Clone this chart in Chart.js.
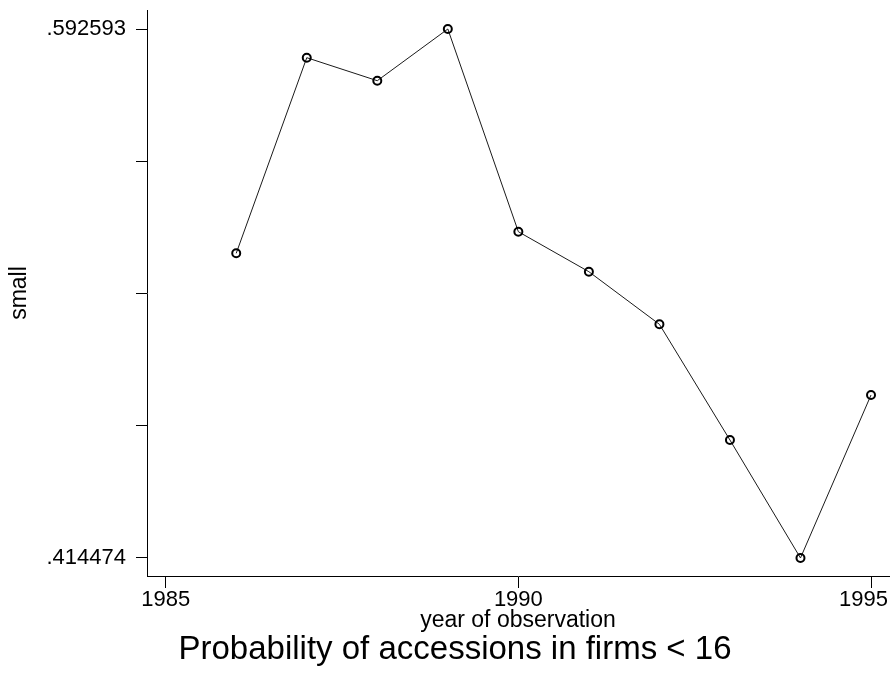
<!DOCTYPE html>
<html>
<head>
<meta charset="utf-8">
<script src="https://cdn.jsdelivr.net/npm/chart.js@4/dist/chart.umd.min.js"></script>
<style>
  html, body { margin: 0; padding: 0; background: #ffffff; }
  #wrap { width: 895px; height: 677px; position: relative; }
</style>
</head>
<body>
<div id="wrap"><canvas id="chart"></canvas></div>
<script>
// Share of accessions in small firms (< 16 employees), by year
const years = [1986, 1987, 1988, 1989, 1990, 1991, 1992, 1993, 1994, 1995];
const small = [0.51707, 0.58293, 0.57518, 0.592593, 0.52434, 0.51087, 0.49316, 0.45420, 0.414474, 0.46935];

// Axis ticks: y labelled only at min and max, with three unlabelled ticks between
const yTickValues = [0.414474, 0.4590038, 0.5035335, 0.5480632, 0.592593];
const yTickLabels = ['.414474', '', '', '', '.592593'];
const xTickValues = [1985, 1990, 1995];
const xTickLabels = ['1985', '1990', '1995'];

const FONT = "'Liberation Sans', Arial, Helvetica, sans-serif";

const placementPlugin = {
  id: 'placement',
  afterLayout(chart) {
    // bottom caption sits a little right of the canvas centre
    if (chart.titleBlock) {
      chart.titleBlock.left += 21;
    }
  },
  beforeDraw(chart) {
    // keep the last x label inside the plot's right edge
    const xs = chart.scales.x;
    const items = xs.getLabelItems(chart.chartArea);
    if (items.length) {
      const last = items[items.length - 1];
      last.options.textAlign = 'right';
      last.options.translation[0] = xs.right - 1;
    }
  }
};

new Chart(document.getElementById('chart'), {
  type: 'line',
  data: {
    datasets: [{
      data: years.map((y, i) => ({ x: y, y: small[i] })),
      borderColor: '#1a1a1a',
      borderWidth: 1,
      pointRadius: 4,
      pointBorderWidth: 2,
      pointBorderColor: '#000000',
      pointBackgroundColor: 'rgba(0,0,0,0)',
      tension: 0,
      fill: false
    }]
  },
  options: {
    responsive: true,
    maintainAspectRatio: false,
    animation: false,
    events: [],
    layout: { padding: { top: 10, right: 6, left: 0, bottom: 0 } },
    plugins: {
      legend: { display: false },
      tooltip: { enabled: false },
      title: {
        display: true,
        text: 'Probability of accessions in firms < 16',
        position: 'bottom',
        color: '#000000',
        font: { family: FONT, size: 33, weight: 'normal', lineHeight: 1 },
        padding: { top: 0, bottom: 10.2 }
      }
    },
    scales: {
      x: {
        type: 'linear',
        min: 1984.735,
        max: 1995.255,
        afterBuildTicks(scale) { scale.ticks = xTickValues.map(v => ({ value: v })); },
        afterFit(scale) {
          scale.height = 57.8;
          scale.paddingLeft = 0; scale.paddingRight = 0;
          scale.paddingTop = 0; scale.paddingBottom = 0;
        },
        ticks: {
          autoSkip: false,
          maxRotation: 0,
          padding: 1,
          color: '#000000',
          font: { family: FONT, size: 22, lineHeight: 1 },
          callback: (v, i) => xTickLabels[i]
        },
        grid: {
          drawOnChartArea: false,
          drawTicks: true,
          tickLength: 12,
          tickWidth: 1,
          tickColor: '#000000'
        },
        border: { display: true, color: '#000000', width: 1 },
        title: {
          display: true,
          text: 'year of observation',
          color: '#000000',
          font: { family: FONT, size: 23, lineHeight: 1 },
          padding: { top: 0, bottom: 2.0 }
        }
      },
      y: {
        type: 'linear',
        min: 0.408413,
        max: 0.598991,
        afterBuildTicks(scale) { scale.ticks = yTickValues.map(v => ({ value: v })); },
        afterFit(scale) {
          scale.width = 147;
          scale.paddingLeft = 0; scale.paddingRight = 0;
          scale.paddingTop = 0; scale.paddingBottom = 0;
        },
        ticks: {
          autoSkip: false,
          padding: 10,
          color: '#000000',
          font: { family: FONT, size: 22, lineHeight: 1 },
          callback: (v, i) => yTickLabels[i]
        },
        grid: {
          drawOnChartArea: false,
          drawTicks: true,
          tickLength: 11,
          tickWidth: 1,
          tickColor: '#000000'
        },
        border: { display: true, color: '#000000', width: 1 },
        title: {
          display: true,
          text: 'small',
          color: '#000000',
          font: { family: FONT, size: 23, lineHeight: 1 },
          padding: { top: 8.5, bottom: 0 }
        }
      }
    }
  },
  plugins: [placementPlugin]
});
</script>
</body>
</html>
